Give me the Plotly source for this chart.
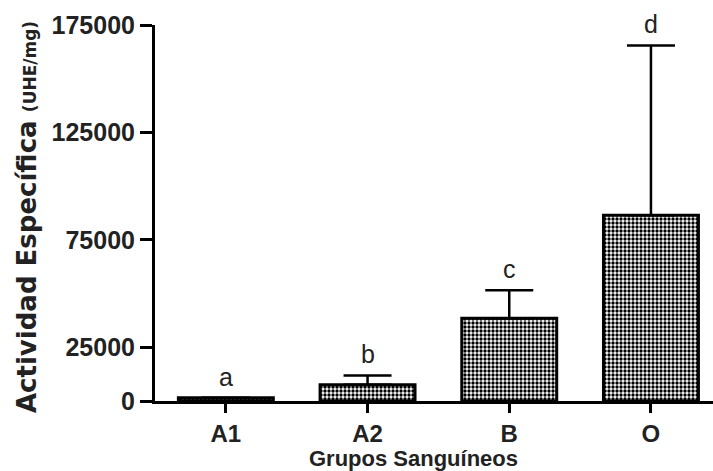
import plotly.graph_objects as go

# Blood-group specific activity data
grupos = ["A1", "A2", "B", "O"]
actividad = [1500, 7600, 38500, 86500]
error_sup = [0, 4300, 13000, 79000]
letras = ["a", "b", "c", "d"]
y_ticks = [0, 25000, 75000, 125000, 175000]

W, H = 713, 471
L, R, T, B = 155, 0, 25, 70
plot_w = W - L - R
plot_h = H - T - B
FONT = "Liberation Sans, Arial, sans-serif"
WIDE = "DejaVu Sans, Verdana, sans-serif"

fig = go.Figure()
fig.add_trace(go.Bar(
    x=list(range(len(grupos))),
    y=actividad,
    width=0.67,
    marker=dict(
        color="white",
        line=dict(color="black", width=3),
        pattern=dict(shape=".", fgcolor="black", bgcolor="white",
                     size=4, solidity=0.55, fillmode="replace"),
    ),
    error_y=dict(type="data", symmetric=False, array=error_sup,
                 arrayminus=[0] * len(grupos), color="black",
                 thickness=2.5, width=24, visible=True),
    showlegend=False,
))

# significance letters above each bar / error cap
for i, (v, e, t) in enumerate(zip(actividad, error_sup, letras)):
    fig.add_annotation(x=i, y=v + e, text=t, showarrow=False,
                       yshift=21, yanchor="middle",
                       font=dict(family=FONT, size=25, color="#222"))

# axis titles
fig.add_annotation(
    xref="paper", yref="paper", x=(27 - L) / plot_w, y=(H - B - 217) / plot_h,
    text="<b>Actividad Específica</b> <b><span style='font-size:17px'>(UHE/mg)</span></b>",
    textangle=-90, showarrow=False, xanchor="center", yanchor="middle",
    font=dict(family=WIDE, size=26, color="#222"))
fig.add_annotation(
    xref="paper", yref="paper", x=(413 - L) / plot_w, y=-(458 - (H - B)) / plot_h,
    text="<b>Grupos Sanguíneos</b>", showarrow=False,
    xanchor="center", yanchor="middle",
    font=dict(family=FONT, size=22, color="#222"))

step = 141.7
fig.update_layout(
    width=W, height=H,
    margin=dict(l=L, r=R, t=T, b=B, pad=0),
    plot_bgcolor="white", paper_bgcolor="white",
    bargap=0.33,
    xaxis=dict(
        range=[-0.5, -0.5 + plot_w / step],
        tickmode="array", tickvals=list(range(len(grupos))), ticktext=grupos,
        showline=True, linecolor="black", linewidth=3,
        ticks="outside", ticklen=9, tickwidth=3, tickcolor="black",
        showgrid=False, zeroline=False,
        tickfont=dict(family=FONT, size=24, color="#222", weight="bold"),
    ),
    yaxis=dict(
        range=[0, 175000],
        tickmode="array", tickvals=y_ticks, ticktext=[str(v) for v in y_ticks],
        showline=True, linecolor="black", linewidth=3,
        ticks="outside", ticklen=12, tickwidth=3, tickcolor="black",
        showgrid=False, zeroline=False,
        tickfont=dict(family=FONT, size=25, color="#222", weight="bold"),
    ),
)

fig.write_html("out.html")
